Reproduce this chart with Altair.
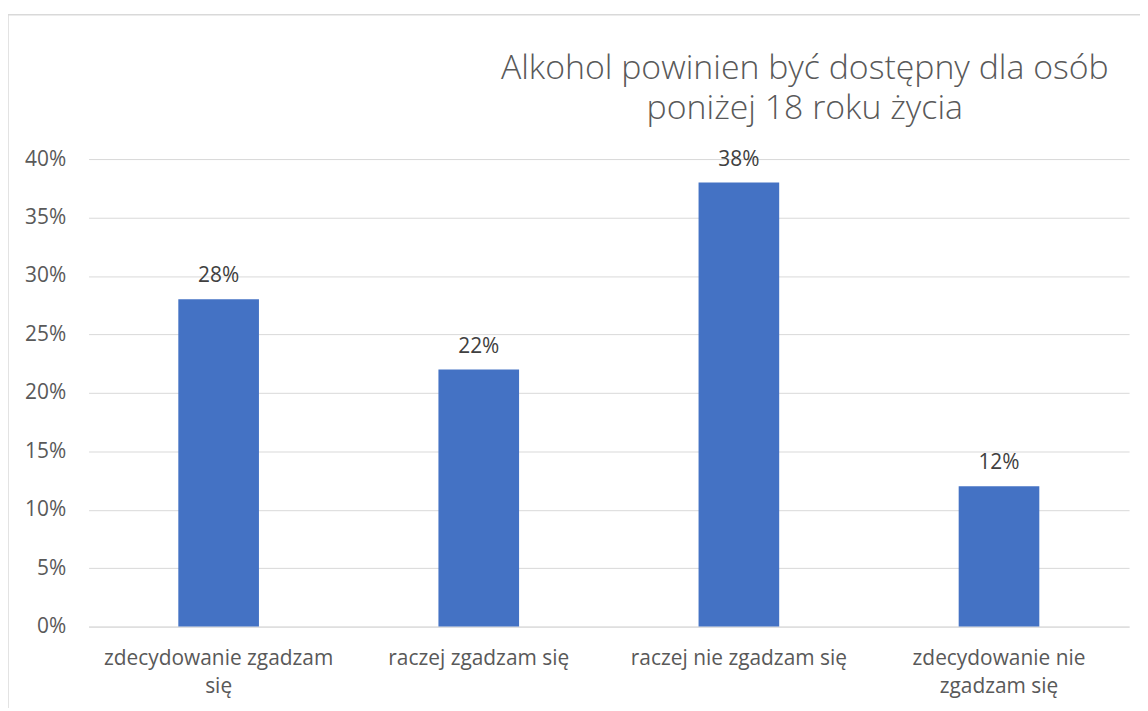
import altair as alt
import pandas as pd

categories = ["zdecydowanie zgadzam się", "raczej zgadzam się", "raczej nie zgadzam się", "zdecydowanie nie zgadzam się"]
values = [0.28, 0.22, 0.38, 0.12]
label_lines = {
    "zdecydowanie zgadzam się": ["zdecydowanie zgadzam", "się"],
    "raczej zgadzam się": ["raczej zgadzam się"],
    "raczej nie zgadzam się": ["raczej nie zgadzam się"],
    "zdecydowanie nie zgadzam się": ["zdecydowanie nie", "zgadzam się"],
}
title_lines = ["Alkohol powinien być dostępny dla osób", "poniżej 18 roku życia"]

df = pd.DataFrame({"cat": categories, "val": values})
one = pd.DataFrame({"k": [0]})

FONT = "Open Sans"
GREY = "#595959"
FS = 21

expr_parts = []
for k, v in label_lines.items():
    arr = "[" + ",".join("'" + s + "'" for s in v) + "]"
    expr_parts.append(f"datum.value == '{k}' ? {arr} : ")
label_expr = "".join(expr_parts) + "datum.value"

x = alt.X("cat:N", sort=categories, title=None,
          scale=alt.Scale(paddingInner=0.69, paddingOuter=0.345),
          axis=alt.Axis(labelAngle=0, labelExpr=label_expr, labelFontSize=FS,
                        labelFont=FONT, labelColor=GREY, labelPadding=21,
                        labelLineHeight=28, ticks=False, domain=True, labelLimit=400,
                        domainColor="#d9d9d9", labelBaseline="top"))
y = alt.Y("val:Q", title=None,
          scale=alt.Scale(domain=[0, 0.4], nice=False),
          axis=alt.Axis(format=".0%", values=[0, 0.05, 0.1, 0.15, 0.2, 0.25, 0.3, 0.35, 0.4],
                        labelFontSize=FS, labelFont=FONT, labelColor=GREY,
                        labelPadding=23, ticks=False, domain=False,
                        gridColor="#d9d9d9", gridWidth=1))

base = alt.Chart(df)
bars = base.mark_bar(color="#4472C4").encode(x=x, y=y)
texts = base.mark_text(dy=-13, baseline="bottom", fontSize=FS, font=FONT, color="#404040").encode(
    x=alt.X("cat:N", sort=categories), y="val:Q", text=alt.Text("val:Q", format=".0%"))

deco = alt.Chart(one)
title1 = deco.mark_text(fontSize=34, font=FONT, color=GREY, fontWeight=300,
                        baseline="alphabetic", align="center").encode(
    x=alt.value(720), y=alt.value(-80), text=alt.value(title_lines[0]))
title2 = deco.mark_text(fontSize=34, font=FONT, color=GREY, fontWeight=300,
                        baseline="alphabetic", align="center").encode(
    x=alt.value(720), y=alt.value(-40), text=alt.value(title_lines[1]))

border_top = deco.mark_rule(color="#d9d9d9", strokeWidth=1.5).encode(
    x=alt.value(-81), x2=alt.value(1070), y=alt.value(-145))
border_left = deco.mark_rule(color="#d9d9d9", strokeWidth=1.5).encode(
    x=alt.value(-81), y=alt.value(-145), y2=alt.value(560))

chart = alt.layer(bars, texts, title1, title2, border_top, border_left).properties(
    width=1046, height=470,
    autosize=alt.AutoSizeParams(type="none"),
    padding={"left": 81, "top": 150, "right": 11, "bottom": 80},
).configure_view(stroke=None)

chart.save("out.html", embed_options={"renderer": "svg", "actions": False})
